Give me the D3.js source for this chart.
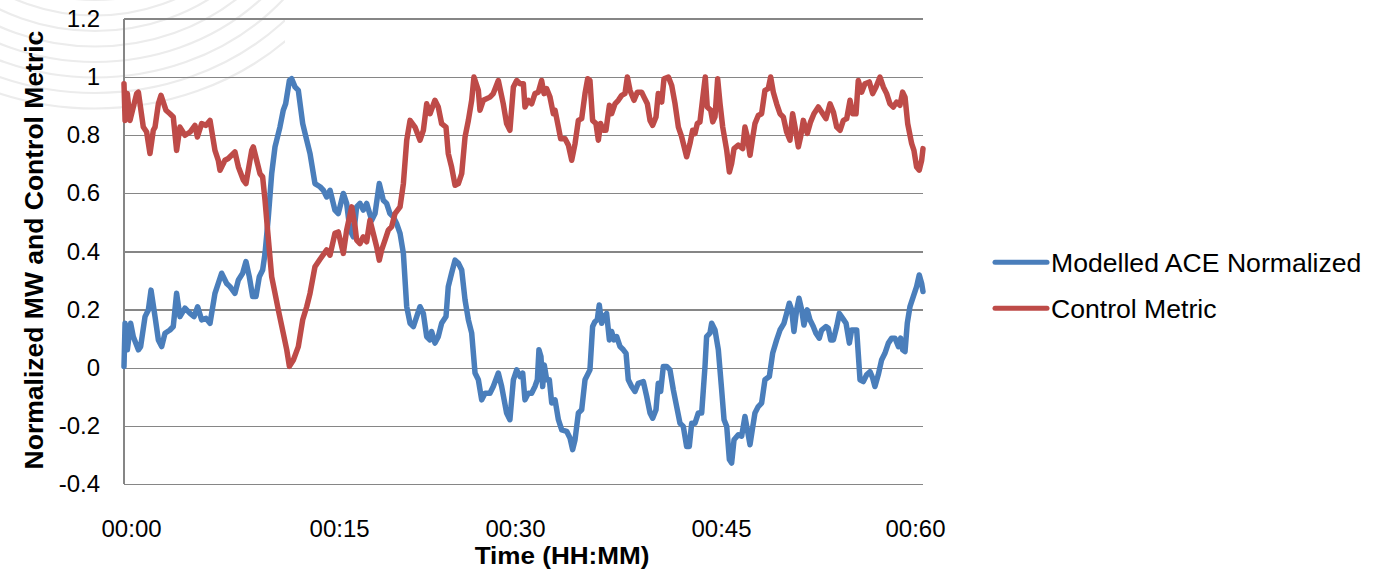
<!DOCTYPE html>
<html>
<head>
<meta charset="utf-8">
<script src="https://cdn.jsdelivr.net/npm/d3@7"></script>
<style>
  html, body { margin: 0; padding: 0; background: #ffffff; }
  svg { display: block; font-family: "Liberation Sans", Arial, sans-serif; }
</style>
</head>
<body>
<svg id="chart" width="1388" height="579"></svg>
<script>
// ---------- DATA ----------
const seriesNames = ["Modelled ACE Normalized", "Control Metric"];
const seriesColors = ["#4A7EBB", "#BE4B48"];

// Modelled ACE Normalized: time (minutes) and value
const aceMinutes = [0.00,0.08,0.25,0.50,0.70,1.08,1.25,1.58,1.83,2.03,2.33,2.58,2.83,3.08,3.45,3.70,3.95,4.20,4.58,4.96,5.26,5.53,5.83,6.16,6.46,6.83,7.08,7.33,7.71,7.96,8.33,8.59,8.91,9.16,9.41,9.66,9.91,10.16,10.41,10.59,10.84,11.09,11.34,11.71,11.96,12.14,12.42,12.59,12.84,13.09,13.42,13.72,13.97,14.34,14.72,
  14.97,15.22,15.47,15.84,16.09,16.47,16.72,16.97,17.22,17.47,17.72,17.97,18.22,18.60,18.85,19.17,19.47,19.72,19.97,20.22,20.47,20.73,20.98,21.23,21.48,21.73,21.98,22.23,22.48,22.73,22.98,23.10,23.35,23.60,23.85,24.18,24.35,24.60,24.86,25.11,25.36,25.61,25.86,26.11,26.36,26.61,26.86,27.11,27.48,27.73,28.11,28.36,28.73,28.98,29.24,29.49,29.74,
  29.94,30.11,30.36,30.61,30.86,31.04,31.16,31.31,31.44,31.56,31.74,31.94,32.12,32.37,32.62,32.87,33.24,33.49,33.69,33.87,34.12,34.37,34.62,34.99,35.19,35.37,35.54,35.69,35.87,36.04,36.24,36.45,36.62,36.80,37.00,37.25,37.50,37.70,37.87,38.12,38.37,38.62,39.00,39.25,39.50,39.70,39.95,40.12,40.30,40.50,40.75,41.00,41.25,41.50,41.75,42.00,42.25,42.45,42.63,42.88,43.13,43.38,43.63,43.75,44.00,44.13,44.38,44.63,
  44.88,45.06,45.26,45.46,45.63,45.81,46.13,46.38,46.63,46.81,47.01,47.18,47.38,47.63,47.88,48.13,48.46,48.71,49.01,49.26,49.56,49.76,49.96,50.14,50.31,50.51,50.69,50.89,51.06,51.31,51.51,51.76,51.96,52.21,52.39,52.71,52.89,53.07,53.27,53.52,53.72,53.97,54.22,54.47,54.64,55.02,55.27,55.52,55.77,56.02,56.22,56.39,56.64,56.89,57.14,57.40,57.65,57.90,58.15,58.32,58.47,58.65,58.82,59.02,59.27,59.52,59.72,59.90,60.00];
const aceValues = [0.005,0.153,0.062,0.153,0.107,0.062,0.073,0.176,0.199,0.267,0.176,0.096,0.073,0.119,0.130,0.142,0.256,0.176,0.205,0.187,0.176,0.210,0.165,0.170,0.153,0.256,0.290,0.325,0.290,0.279,0.256,0.302,0.325,0.365,0.313,0.245,0.245,0.313,0.336,0.393,0.519,0.667,0.759,0.827,0.885,0.907,0.987,0.993,0.965,0.953,0.839,0.782,0.736,0.633,0.622,
  0.610,0.587,0.610,0.542,0.530,0.599,0.565,0.473,0.450,0.553,0.565,0.542,0.565,0.507,0.530,0.633,0.576,0.565,0.530,0.519,0.496,0.462,0.393,0.210,0.153,0.142,0.176,0.210,0.187,0.107,0.096,0.125,0.085,0.107,0.153,0.176,0.279,0.325,0.370,0.359,0.336,0.233,0.165,0.119,-0.018,-0.041,-0.110,-0.087,-0.087,-0.064,-0.018,-0.064,-0.155,-0.178,-0.041,-0.007,-0.030,
  -0.018,-0.110,-0.087,-0.087,-0.064,-0.041,0.062,0.039,-0.064,0.010,-0.041,-0.041,-0.121,-0.110,-0.178,-0.213,-0.218,-0.241,-0.281,-0.247,-0.155,-0.144,-0.041,-0.007,0.142,0.159,0.165,0.216,0.153,0.176,0.187,0.096,0.125,0.096,0.107,0.073,0.062,0.050,-0.041,-0.064,-0.081,-0.053,-0.047,-0.098,-0.155,-0.173,-0.144,-0.053,-0.081,0.005,0.005,-0.007,-0.075,-0.133,-0.190,-0.201,-0.270,-0.270,-0.190,-0.190,-0.155,-0.155,0.005,0.107,0.119,0.153,0.130,0.062,
  -0.075,-0.178,-0.201,-0.315,-0.327,-0.247,-0.230,-0.235,-0.167,-0.213,-0.264,-0.213,-0.155,-0.133,-0.121,-0.041,-0.030,0.050,0.096,0.130,0.153,0.187,0.222,0.199,0.125,0.199,0.239,0.199,0.147,0.199,0.165,0.142,0.119,0.102,0.130,0.142,0.136,0.096,0.096,0.142,0.187,0.170,0.153,0.085,0.130,0.130,-0.041,-0.047,-0.024,-0.013,-0.035,-0.064,-0.024,0.027,0.050,0.085,0.102,0.102,0.073,0.102,0.062,0.056,0.153,0.210,0.245,0.279,0.319,0.290,0.262];

// Control Metric: time (minutes) and value
const cmMinutes = [0.00,0.08,0.25,0.45,0.95,1.08,1.45,1.70,1.95,2.20,2.33,2.58,2.78,3.15,3.45,3.70,3.95,4.20,4.58,4.96,5.33,5.51,5.83,6.16,6.46,6.83,7.08,7.21,7.58,7.83,8.33,8.59,8.96,9.16,9.59,9.71,9.96,10.21,10.41,10.59,10.76,11.09,11.34,11.59,11.96,12.22,12.42,12.72,13.09,13.42,13.72,13.97,14.34,14.72,
  15.22,15.47,15.84,16.09,16.47,16.72,17.10,17.35,17.47,17.72,17.97,18.22,18.47,18.72,18.97,19.17,19.35,19.60,19.85,20.10,20.35,20.73,20.98,21.23,21.48,21.85,22.23,22.48,22.73,22.98,23.35,23.60,23.85,24.18,24.35,24.60,24.86,25.11,25.36,25.61,25.86,26.11,26.28,26.61,26.73,26.98,27.48,27.73,28.11,28.48,28.73,28.98,29.24,29.49,
  29.74,29.99,30.11,30.36,30.61,30.86,31.11,31.36,31.54,31.74,31.99,32.24,32.37,32.62,32.79,33.12,33.37,33.62,33.87,34.12,34.37,34.62,34.82,34.99,35.19,35.44,35.62,35.79,35.99,36.19,36.45,36.62,36.87,37.12,37.37,37.62,37.80,38.00,38.30,38.55,38.87,39.05,39.30,39.50,39.70,39.95,40.12,40.38,40.55,40.88,41.13,41.38,41.63,41.88,42.25,42.50,42.70,42.88,43.05,43.25,43.50,43.65,43.80,44.06,44.21,44.38,44.58,44.76,44.96,
  45.26,45.46,45.63,45.81,46.13,46.46,46.63,46.81,47.01,47.18,47.38,47.63,47.88,48.13,48.38,48.56,48.76,49.01,49.26,49.51,49.76,50.01,50.21,50.39,50.64,50.81,51.01,51.31,51.56,51.81,52.14,52.39,52.71,53.02,53.27,53.52,53.77,54.02,54.27,54.52,54.72,54.97,55.14,55.39,55.64,55.97,56.22,56.47,56.77,57.02,57.27,57.52,57.77,58.02,58.27,58.47,58.65,58.85,59.15,59.32,59.52,59.72,59.90,60.00];
const cmValues = [0.976,0.850,0.942,0.850,0.942,0.947,0.827,0.810,0.736,0.816,0.827,0.907,0.936,0.885,0.873,0.862,0.747,0.827,0.799,0.810,0.833,0.793,0.839,0.833,0.850,0.747,0.713,0.679,0.713,0.719,0.742,0.690,0.645,0.633,0.747,0.759,0.713,0.667,0.656,0.576,0.485,0.313,0.256,0.199,0.119,0.062,0.005,0.027,0.073,0.165,0.210,0.256,0.347,0.373,
  0.405,0.387,0.462,0.467,0.393,0.473,0.553,0.485,0.439,0.427,0.450,0.433,0.507,0.462,0.416,0.370,0.405,0.439,0.473,0.485,0.530,0.553,0.633,0.782,0.850,0.827,0.782,0.816,0.907,0.873,0.919,0.896,0.839,0.827,0.736,0.690,0.627,0.633,0.667,0.793,0.850,0.919,0.999,0.953,0.885,0.919,0.930,0.942,0.987,0.907,0.839,0.816,0.965,0.987,
  0.976,0.976,0.896,0.919,0.907,0.942,0.947,0.987,0.942,0.959,0.930,0.873,0.885,0.827,0.787,0.787,0.765,0.713,0.770,0.850,0.856,0.942,0.993,0.987,0.850,0.839,0.782,0.839,0.816,0.816,0.902,0.873,0.907,0.919,0.936,0.942,0.999,0.953,0.919,0.947,0.947,0.930,0.907,0.850,0.833,0.862,0.942,0.913,0.993,0.999,0.970,0.907,0.827,0.793,0.725,0.770,0.816,0.805,0.839,0.845,0.942,0.999,0.896,0.885,0.845,0.862,0.993,0.907,0.827,
  0.747,0.673,0.702,0.753,0.765,0.753,0.827,0.793,0.730,0.782,0.839,0.867,0.873,0.953,0.959,0.999,0.947,0.907,0.873,0.862,0.810,0.782,0.873,0.827,0.759,0.793,0.850,0.805,0.845,0.873,0.896,0.879,0.856,0.907,0.879,0.827,0.816,0.850,0.856,0.919,0.873,0.873,0.987,0.947,0.976,0.982,0.942,0.965,0.999,0.965,0.942,0.907,0.896,0.913,0.902,0.947,0.930,0.839,0.770,0.747,0.690,0.679,0.713,0.753];

// Axis ticks
const yTicks = [-0.4, -0.2, 0, 0.2, 0.4, 0.6, 0.8, 1, 1.2];
const yTickLabels = ["-0.4", "-0.2", "0", "0.2", "0.4", "0.6", "0.8", "1", "1.2"];
const xTickLabels = ["00:00", "00:15", "00:30", "00:45", "00:60"];
const xTickAt = [0.53, 16.15, 29.36, 44.83, 59.40]; // label positions (minutes) as placed on the category axis

const yTitle = "Normalized MW and Control Metric";
const xTitle = "Time (HH:MM)";

// ---------- LAYOUT ----------
const plot = { left: 124, right: 923, top: 18.5, bottom: 484.3 };
const FONT = "'Liberation Sans', Arial, sans-serif";
const svg = d3.select("#chart");

svg.append("rect").attr("width", 1388).attr("height", 579).attr("fill", "#ffffff");

// faint background watermark arcs (top-left)
svg.append("clipPath").attr("id", "wmclip").append("rect")
  .attr("x", 0).attr("y", 0).attr("width", 285).attr("height", 115);
const wm = svg.append("g").attr("clip-path", "url(#wmclip)")
  .attr("fill", "none").attr("stroke", "#ececec").attr("stroke-width", 2.2);
d3.range(8).forEach(k => {
  const r = 150 + k * 14;
  wm.append("ellipse").attr("cx", 95).attr("cy", -150 + k * 1.5)
    .attr("rx", r * 1.12).attr("ry", r);
});

const x = d3.scaleLinear().domain([0, 60]).range([plot.left, plot.right]);
const y = d3.scaleLinear().domain([-0.4, 1.2]).range([plot.bottom, plot.top]);

// gridlines + y labels
const yAxis = d3.axisLeft(y).tickValues(yTicks).tickSize(-(plot.right - plot.left)).tickPadding(24)
  .tickFormat((d, i) => yTickLabels[i]);
const gy = svg.append("g").attr("transform", `translate(${plot.left},0)`).call(yAxis);
gy.select(".domain").remove();
gy.selectAll(".tick line").attr("stroke", "#868686").attr("stroke-width", 1.3).attr("shape-rendering", "crispEdges");
gy.selectAll(".tick text").attr("fill", "#000").attr("font-size", "24px").attr("font-family", FONT);

// left axis line
svg.append("line").attr("x1", plot.left).attr("x2", plot.left).attr("y1", plot.top).attr("y2", plot.bottom)
  .attr("stroke", "#868686").attr("stroke-width", 1.3).attr("shape-rendering", "crispEdges");

// x axis labels
const xAxis = d3.axisBottom(x).tickValues(xTickAt).tickSize(0).tickPadding(36)
  .tickFormat((d, i) => xTickLabels[i]);
const gx = svg.append("g").attr("transform", `translate(0,${plot.bottom})`).call(xAxis);
gx.select(".domain").remove();
gx.selectAll(".tick text").attr("fill", "#000").attr("font-size", "24px").attr("font-family", FONT);

// lines
const line = d3.line().x(d => x(d[0])).y(d => y(d[1]));
const aceData = aceMinutes.map((m, i) => [m, aceValues[i]]);
const cmData = cmMinutes.map((m, i) => [m, cmValues[i]]);
[[aceData, seriesColors[0]], [cmData, seriesColors[1]]].forEach(([data, color]) => {
  svg.append("path").datum(data).attr("d", line).attr("fill", "none")
    .attr("stroke", color).attr("stroke-width", 5.5)
    .attr("stroke-linejoin", "round").attr("stroke-linecap", "round");
});

// axis titles
svg.append("text").attr("transform", "translate(562,564) scale(1.11,1)").attr("text-anchor", "middle")
  .attr("font-size", "23.5px").attr("font-weight", "bold").attr("fill", "#000").attr("font-family", FONT).text(xTitle);
svg.append("text").attr("transform", "translate(43,250) rotate(-90)").attr("text-anchor", "middle")
  .attr("font-size", "26.5px").attr("font-weight", "bold").attr("fill", "#000").attr("font-family", FONT).text(yTitle);

// legend
const legend = svg.append("g");
seriesNames.forEach((name, i) => {
  const ly = 262.3 + i * 46;
  legend.append("line").attr("x1", 995).attr("x2", 1047).attr("y1", ly).attr("y2", ly)
    .attr("stroke", seriesColors[i]).attr("stroke-width", 5).attr("stroke-linecap", "round");
  legend.append("text").attr("x", 1051).attr("y", ly + 9.5).attr("font-size", "26.6px")
    .attr("fill", "#000").attr("font-family", FONT).text(name);
});
</script>
</body>
</html>
